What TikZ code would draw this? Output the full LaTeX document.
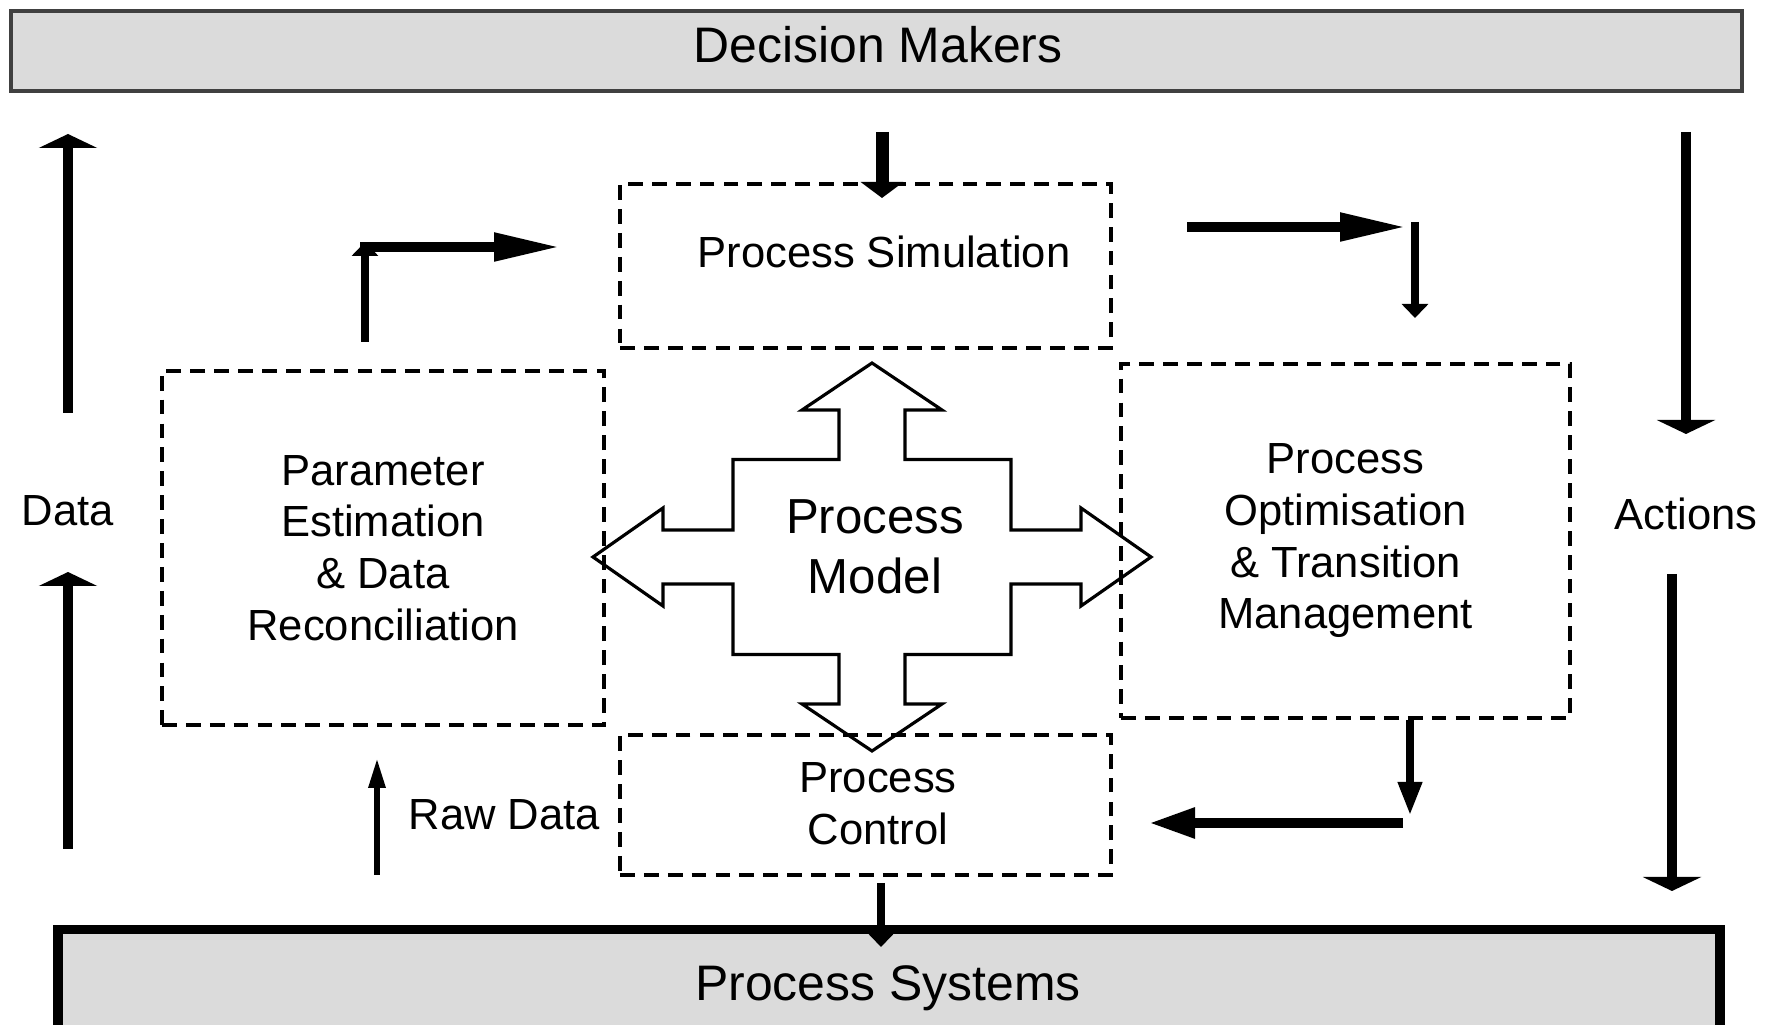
\documentclass[tikz,border=0pt]{standalone}
\usepackage{fontspec}
\setmainfont{Liberation Sans}
\usetikzlibrary{arrows.meta}

\tikzset{
	dbox/.style={draw, line width=1pt, dash pattern=on 4.2pt off 2.6pt, inner sep=0pt},
	txt/.style={font=\fontsize{12.4}{14.7}\selectfont, align=center},
	bigtxt/.style={font=\fontsize{14.2}{17}\selectfont, align=center},
	sidearr/.style={line width=2.8pt, -{Triangle[width=0.58cm,length=0.14cm]}},
	decarr/.style={line width=3.7pt, -{Triangle[width=0.42cm,length=0.16cm]}},
	smallarr/.style={line width=2pt, -{Triangle[width=0.26cm,length=0.14cm]}},
	fatarr/.style={line width=3.1pt, -{Triangle[width=0.26cm,length=0.68cm]}},
	narrowarr/.style={line width=2pt, -{Triangle[width=0.23cm,length=0.33cm]}},
	midarr/.style={line width=3.1pt, -{Triangle[width=0.28cm,length=0.47cm]}},
	rawarr/.style={line width=1.7pt, -{Triangle[width=0.16cm,length=0.3cm]}}
}

\begin{document}
\begin{tikzpicture}
	\useasboundingbox (0,0) rectangle (17.74,10.24);

	% top and bottom bars
	\node[draw=black!75, line width=1.2pt, fill=black!14, minimum width=17.31cm, minimum height=0.80cm, inner sep=0pt] (dm) at (8.765,9.73) {};
	\node[bigtxt] (dmtxt) at (8.78,9.79) {Decision Makers};
	\node[draw, line width=2.6pt, fill=black!14, minimum width=16.62cm, minimum height=1.4cm, inner sep=0pt, anchor=north] (ps) at (8.89,0.99) {};
	\node[bigtxt, anchor=base] (pstxt) at (8.88,0.24) {Process Systems};

	% dashed boxes
	\node[dbox, minimum width=4.91cm, minimum height=1.64cm] (sim) at (8.655,7.58) {};
	\node[txt] (simtxt) at (8.84,7.72) {Process Simulation};
	\node[dbox, txt, minimum width=4.42cm, minimum height=3.54cm] (pe) at (3.83,4.76) {Parameter\\Estimation\\\& Data\\Reconciliation};
	\node[dbox, txt, minimum width=4.49cm, minimum height=3.54cm] (opt) at (13.455,4.83) {Process\\Optimisation\\\& Transition\\Management};
	\node[dbox, minimum width=4.91cm, minimum height=1.40cm] (pc) at (8.655,2.19) {};
	\node[txt] (pctxt) at (8.78,2.20) {Process\\Control};

	% four-way arrow
	\coordinate (pmc) at (8.72,4.67);
	\draw[line width=0.9pt, shift={(pmc)}] (0,1.94) -- (0.70,1.47) -- (0.33,1.47) -- (0.33,0.975) -- (1.39,0.975) -- (1.39,0.27) -- (2.09,0.27) -- (2.09,0.49) -- (2.79,0)
		-- (2.09,-0.49) -- (2.09,-0.27) -- (1.39,-0.27) -- (1.39,-0.975) -- (0.33,-0.975) -- (0.33,-1.47) -- (0.70,-1.47) -- (0,-1.94)
		-- (-0.70,-1.47) -- (-0.33,-1.47) -- (-0.33,-0.975) -- (-1.39,-0.975) -- (-1.39,-0.27) -- (-2.09,-0.27) -- (-2.09,-0.49) -- (-2.79,0)
		-- (-2.09,0.49) -- (-2.09,0.27) -- (-1.39,0.27) -- (-1.39,0.975) -- (-0.33,0.975) -- (-0.33,1.47) -- (-0.70,1.47) -- cycle;
	\node[font=\fontsize{14}{17}\selectfont, align=center] (pm) at (8.75,4.77) {Process\\Model};

	% Data and Actions
	\coordinate (dA) at (0.68,6.11);
	\coordinate (dB) at (0.68,8.90);
	\coordinate (dC) at (0.68,1.75);
	\coordinate (dD) at (0.68,4.52);
	\draw[sidearr] (dA) -- (dB);
	\draw[sidearr] (dC) -- (dD);
	\node[txt] (data) at (0.68,5.13) {Data};

	\coordinate (aA) at (16.86,8.92);
	\coordinate (aB) at (16.86,5.90);
	\coordinate (aC) at (16.72,4.50);
	\coordinate (aD) at (16.72,1.33);
	\draw[sidearr] (aA) -- (aB);
	\draw[sidearr] (aC) -- (aD);
	\node[txt] (act) at (16.86,5.10) {Actions};

	% connectors between the boxes
	\coordinate (s1) at (8.82,8.92);
	\coordinate (s2) at (8.82,8.26);
	\draw[decarr] (s1) -- (s2);

	\coordinate (c1) at (8.81,1.41);
	\coordinate (c2) at (8.81,0.77);
	\draw[smallarr] (c1) -- (c2);

	\coordinate (p1) at (3.65,6.82);
	\coordinate (p2) at (3.65,7.82);
	\coordinate (p3) at (3.60,7.77);
	\coordinate (p4) at (5.62,7.77);
	\draw[smallarr] (p1) -- (p2);
	\draw[fatarr] (p3) -- (p4);

	\coordinate (t1) at (11.87,7.97);
	\coordinate (t2) at (14.08,7.97);
	\coordinate (t3) at (14.15,8.02);
	\coordinate (t4) at (14.15,7.06);
	\draw[fatarr] (t1) -- (t2);
	\draw[smallarr] (t3) -- (t4);

	\coordinate (o1) at (14.10,3.04);
	\coordinate (o2) at (14.10,2.09);
	\coordinate (o3) at (14.03,2.01);
	\coordinate (o4) at (11.48,2.01);
	\draw[narrowarr] (o1) -- (o2);
	\draw[midarr] (o3) -- (o4);

	\coordinate (r1) at (3.77,1.49);
	\coordinate (r2) at (3.77,2.66);
	\draw[rawarr] (r1) -- (r2);
	\node[txt, anchor=west, inner sep=0pt] (raw) at (4.08,2.09) {Raw Data};
\end{tikzpicture}
\end{document}
